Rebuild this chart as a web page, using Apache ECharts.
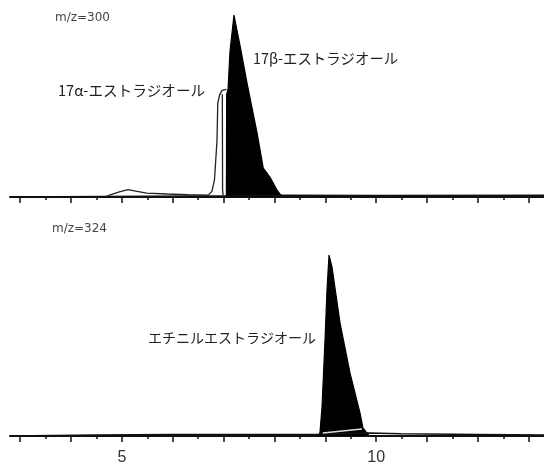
<!DOCTYPE html>
<html>
<head>
<meta charset="utf-8">
<script src="https://cdn.jsdelivr.net/npm/echarts@6/dist/echarts.min.js"></script>
<style>
  html, body { margin: 0; padding: 0; background: #fff; }
  #chart { width: 544px; height: 470px; }
</style>
</head>
<body>
<div id="chart"></div>
<script>
// retention time axis (min)
var timeMin = 2.8;
var timeMax = 13.3;
var majorTicks = [3, 4, 5, 6, 7, 8, 9, 10, 11, 12, 13];
var minorTicks = [3.5, 4.5, 5.5, 6.5, 7.5, 8.5, 9.5, 10.5, 11.5, 12.5];
var tickLabels = [5, 10];

// m/z=300 trace: baseline, 17α (outline), 17β (filled)
var base300 = [[2.8, 0], [4.6, 0.3], [6.5, 0.6], [7.06, 0.5], [8.2, 1], [10, 0.8], [13.3, 1]];
var alpha300 = [
  [4.7, 0.4], [4.77, 1.1], [4.95, 2.8], [5.12, 4.0], [5.3, 3.0], [5.49, 2.1], [5.89, 1.6],
  [6.3, 1.2], [6.7, 1.0], [6.77, 3], [6.82, 9], [6.85, 10], [6.87, 30], [6.885, 50],
  [6.92, 54.5], [6.97, 57], [7.06, 57.5],
  [6.975, '-'], [6.975, 55], [6.98, 4], [6.99, 1]
];
var beta300 = [
  [7.055, 0.5], [7.06, 55], [7.087, 57.5], [7.126, 78], [7.204, 97.3], [7.33, 80],
  [7.46, 61], [7.66, 34], [7.78, 15.5], [7.91, 10.7], [8.05, 3.7], [8.11, 1.5], [8.15, 0.5]
];

// m/z=324 trace: baseline, エチニルエストラジオール (filled)
var base324 = [[2.8, 0], [4.5, 0.5], [6, 0.8], [8.8, 0.8], [9.85, 1.6], [10.5, 1.2], [12, 0.8], [13.3, 0.5]];
var ethinyl324 = [
  [8.88, 0.5], [8.896, 2.2], [8.935, 15.6], [8.994, 51.6], [9.033, 78.5], [9.073, 97.3],
  [9.131, 90.9], [9.289, 60.8], [9.485, 33.9], [9.682, 12.4], [9.741, 4.3], [9.82, 1.6], [9.85, 0.5]
];
var drift324 = [[8.95, 1.6], [9.72, 3.8]];

var chart = echarts.init(document.getElementById('chart'));

function mainAxis(grid, labels) {
  return {
    type: 'value', gridIndex: grid, position: 'bottom',
    min: timeMin, max: timeMax,
    splitLine: { show: false },
    axisLine: { show: true, lineStyle: { color: '#111', width: 2 } },
    axisTick: { show: true, customValues: majorTicks, length: 6, lineStyle: { color: '#111', width: 1.5 } },
    axisLabel: labels ? {
      show: true, customValues: tickLabels, margin: 14,
      fontSize: 16, color: '#333', fontFamily: 'Liberation Sans'
    } : { show: false }
  };
}
function minorAxis(grid) {
  return {
    type: 'value', gridIndex: grid, position: 'bottom',
    min: timeMin, max: timeMax,
    splitLine: { show: false },
    axisLine: { show: false },
    axisTick: { show: true, customValues: minorTicks, length: 3, lineStyle: { color: '#111', width: 1.5 } },
    axisLabel: { show: false }
  };
}
function trace(name, x, y, data, color, width, fill) {
  var s = {
    name: name, type: 'line', xAxisIndex: x, yAxisIndex: y, data: data,
    showSymbol: false, symbol: 'none', silent: true, animation: false,
    lineStyle: { color: color, width: width }
  };
  if (fill) s.areaStyle = { color: fill, opacity: 1 };
  return s;
}

var option = {
  backgroundColor: '#fff',
  grid: [
    { left: 10, right: 0, top: 10, height: 187 },
    { left: 10, right: 0, top: 250, height: 186 }
  ],
  xAxis: [mainAxis(0, false), minorAxis(0), mainAxis(1, true), minorAxis(1)],
  yAxis: [
    { type: 'value', gridIndex: 0, min: 0, max: 100, show: false },
    { type: 'value', gridIndex: 1, min: 0, max: 100, show: false }
  ],
  graphic: [
    { type: 'text', left: 55, top: 12, style: { text: 'm/z=300', font: '12px "DejaVu Sans"', fill: '#444' } },
    { type: 'text', left: 58, top: 83, style: { text: '17α-エストラジオール', font: '14.6px "Noto Sans CJK JP"', fill: '#222' } },
    { type: 'text', left: 253, top: 51, style: { text: '17β-エストラジオール', font: '14.4px "Noto Sans CJK JP"', fill: '#222' } },
    { type: 'text', left: 52, top: 223, style: { text: 'm/z=324', font: '12px "DejaVu Sans"', fill: '#444' } },
    { type: 'text', left: 148, top: 331, style: { text: 'エチニルエストラジオール', font: '14px "Noto Sans CJK JP"', fill: '#222' } }
  ],
  series: [
    trace('base300', 0, 0, base300, '#111', 1.5),
    trace('17α', 0, 0, alpha300, '#222', 1.3),
    trace('17β', 0, 0, beta300, '#000', 1.2, '#000'),
    trace('base324', 2, 1, base324, '#111', 1.5),
    trace('ethinyl', 2, 1, ethinyl324, '#000', 1.2, '#000'),
    trace('drift', 2, 1, drift324, '#ddd', 1.5)
  ]
};
chart.setOption(option);
</script>
</body>
</html>
